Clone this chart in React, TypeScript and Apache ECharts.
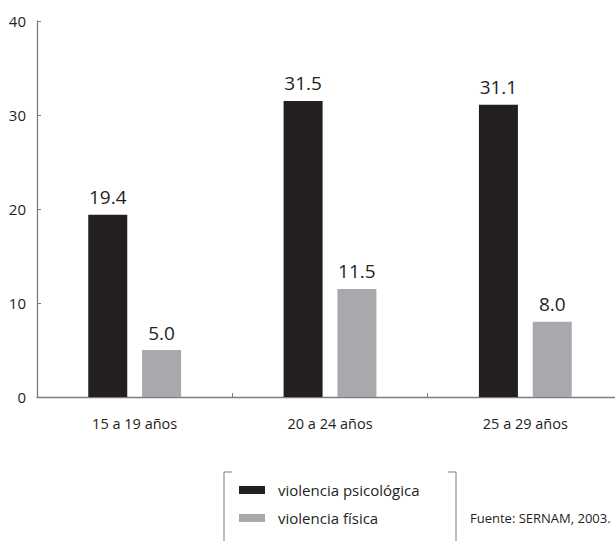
import React, { useEffect, useRef } from "react";
import * as echarts from "echarts";

const categories = ["15 a 19 años", "20 a 24 años", "25 a 29 años"];
const psicologica = [19.4, 31.5, 31.1];
const fisica = [5.0, 11.5, 8.0];
const seriesNames = ["violencia psicológica", "violencia física"];
const sourceNote = "Fuente: SERNAM, 2003.";

const FONT = "Open Sans";
const DARK = "#231f20";
const GRAY = "#a7a9ac";
const AXIS = "#7d7d7d";

export default function App() {
  const ref = useRef<HTMLDivElement>(null);
  useEffect(() => {
    if (!ref.current) return;
    const chart = echarts.init(ref.current, null, { renderer: "svg" });
    const label = {
      show: true,
      position: "top",
      distance: 8,
      fontFamily: FONT,
      fontSize: 19,
      color: DARK,
      formatter: (p: any) => Number(p.value).toFixed(1),
    };
    chart.setOption({
      animation: false,
      textStyle: { fontFamily: FONT },
      grid: { left: 37, width: 586, top: 21, height: 376, outerBoundsMode: "none", containLabel: false },
      xAxis: {
        type: "category",
        data: categories,
        axisLine: { show: true, lineStyle: { color: AXIS, width: 1.3 } },
        axisTick: { show: true, inside: true, length: 4, alignWithLabel: false, lineStyle: { color: AXIS } },
        axisLabel: { fontFamily: FONT, fontSize: 14.5, color: DARK, margin: 19 },
      },
      yAxis: {
        type: "value",
        min: 0,
        max: 40,
        interval: 10,
        splitLine: { show: false },
        axisLine: { show: true, lineStyle: { color: AXIS, width: 1.3 } },
        axisTick: { show: true, inside: true, length: 4, lineStyle: { color: AXIS } },
        axisLabel: { fontFamily: FONT, fontSize: 15, color: DARK, margin: 11 },
      },
      legend: {
        orient: "vertical",
        left: 234,
        top: 476,
        itemWidth: 26,
        itemHeight: 8,
        itemGap: 10,
        icon: "rect",
        textStyle: { fontFamily: FONT, fontSize: 15, color: DARK, lineHeight: 18, padding: [0, 0, 0, 8] },
        data: seriesNames,
      },
      series: [
        {
          name: seriesNames[0],
          type: "bar",
          data: psicologica,
          barWidth: 39,
          barGap: "38%",
          itemStyle: { color: DARK },
          label,
        },
        {
          name: seriesNames[1],
          type: "bar",
          data: fisica,
          barWidth: 39,
          itemStyle: { color: GRAY },
          label,
        },
      ],
      graphic: [
        {
          type: "polyline",
          shape: { points: [[232, 472], [224, 472], [224, 541]] },
          style: { stroke: AXIS, lineWidth: 1, fill: null },
        },
        {
          type: "polyline",
          shape: { points: [[448, 472], [456, 472], [456, 541]] },
          style: { stroke: AXIS, lineWidth: 1, fill: null },
        },
        {
          type: "text",
          x: 470,
          y: 518,
          style: {
            text: sourceNote,
            fontFamily: FONT,
            fontSize: 13,
            fill: DARK,
            verticalAlign: "middle",
          },
        },
      ],
    });
    return () => chart.dispose();
  }, []);
  return (
    <div
      ref={ref}
      style={{ position: "fixed", left: 0, top: 0, width: 615, height: 541, background: "#fff" }}
    />
  );
}
